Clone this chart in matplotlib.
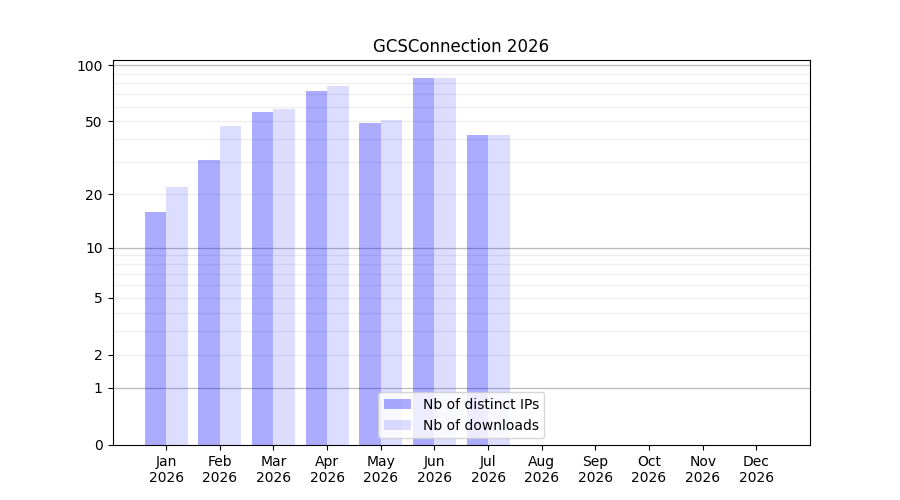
import numpy as np
import matplotlib
matplotlib.use('Agg')
import matplotlib.pyplot as plt

months = ['Jan', 'Feb', 'Mar', 'Apr', 'May', 'Jun', 'Jul', 'Aug', 'Sep', 'Oct', 'Nov', 'Dec']
year = 2026
distinct_ips = [16, 31, 56, 73, 49, 85, 42]
downloads = [22, 47, 58, 77, 51, 85, 42]
ytick_values = [0, 1, 2, 5, 10, 20, 50, 100]
major_grid = [1, 10, 100]
minor_grid = [2, 3, 4, 5, 6, 7, 8, 9, 20, 30, 40, 50, 60, 70, 80, 90]


def forward(y):
    return np.log10(1 + np.asarray(y, dtype=float))


def inverse(y):
    return 10 ** np.asarray(y, dtype=float) - 1


fig, ax = plt.subplots(figsize=(9, 5), dpi=100)
ax.set_yscale('function', functions=(forward, inverse))

width = 0.4
x_ips = np.arange(len(distinct_ips))
x_dl = np.arange(len(downloads))
ax.bar(x_ips - width / 2, distinct_ips, width, color='blue', alpha=0.33,
       label='Nb of distinct IPs', zorder=2)
ax.bar(x_dl + width / 2, downloads, width, color='blue', alpha=0.135,
       label='Nb of downloads', zorder=2)

for v in major_grid:
    ax.axhline(v, color='#bbbbbb', linewidth=0.9, zorder=1)
for v in minor_grid:
    ax.axhline(v, color='#eeeeee', linewidth=0.9, zorder=1)

ax.set_yticks(ytick_values)
ax.set_yticklabels([str(v) for v in ytick_values])
ax.yaxis.set_minor_locator(matplotlib.ticker.NullLocator())
ax.set_xticks(np.arange(len(months)))
ax.set_xticklabels([f'{m}\n{year}' for m in months])
ax.set_xlim(-1, len(months))

ax.set_title(f'GCSConnection {year}')
ax.legend(loc='lower center')

plt.savefig('out.png')
plt.close()
